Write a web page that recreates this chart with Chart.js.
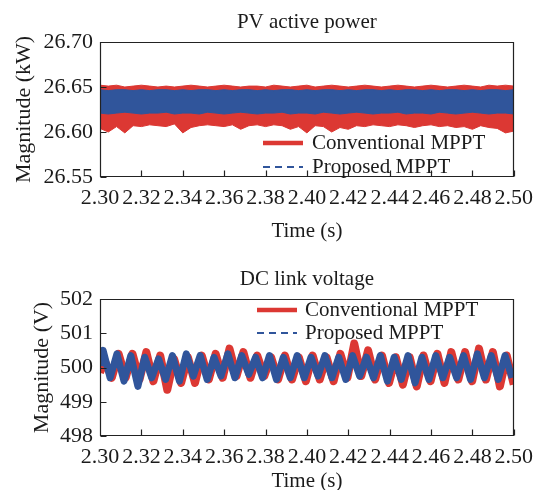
<!DOCTYPE html>
<html><head><meta charset="utf-8">
<script src="https://cdn.jsdelivr.net/npm/chart.js@4.4.0/dist/chart.umd.min.js"></script>
<style>
html,body{margin:0;padding:0;background:#fff;}
#w{position:relative;width:541px;height:490px;overflow:hidden;}
.c{position:absolute;left:0;width:541px;height:245px;}
</style></head><body>
<div id="w">
<div class="c" style="top:0"><canvas id="c1" width="541" height="245"></canvas></div>
<div class="c" style="top:245px"><canvas id="c2" width="541" height="245"></canvas></div>
</div>
<script>
// ---------- DATA ----------
const xTicks = [2.30,2.32,2.34,2.36,2.38,2.40,2.42,2.44,2.46,2.48,2.50];
const yTicksPower = [26.55,26.60,26.65,26.70];
const yTicksVolt = [498,499,500,501,502];
const legendLabels = ['Conventional MPPT','Proposed MPPT'];

// PV active power: envelope of the fast ripple band
const tPower = [2.300,2.304,2.308,2.312,2.316,2.320,2.324,2.328,2.332,2.336,2.340,2.344,2.348,2.352,2.356,2.360,2.364,2.368,2.372,2.376,2.380,2.384,2.388,2.392,2.396,2.400,2.404,2.408,2.412,2.416,2.420,2.424,2.428,2.432,2.436,2.440,2.444,2.448,2.452,2.456,2.460,2.464,2.468,2.472,2.476,2.480,2.484,2.488,2.492,2.496,2.500];
const convPowerUpper = [26.652,26.651,26.652,26.650,26.651,26.652,26.651,26.650,26.651,26.650,26.651,26.652,26.651,26.650,26.651,26.652,26.651,26.650,26.651,26.651,26.650,26.652,26.651,26.650,26.651,26.652,26.650,26.651,26.652,26.651,26.650,26.651,26.652,26.651,26.650,26.651,26.652,26.651,26.650,26.651,26.652,26.651,26.650,26.651,26.652,26.651,26.650,26.652,26.651,26.652,26.651];
const convPowerLower = [26.604,26.600,26.606,26.599,26.607,26.606,26.608,26.607,26.606,26.609,26.599,26.605,26.607,26.608,26.607,26.606,26.608,26.603,26.607,26.608,26.606,26.608,26.607,26.603,26.606,26.599,26.607,26.606,26.600,26.605,26.603,26.607,26.606,26.608,26.607,26.606,26.608,26.607,26.605,26.607,26.608,26.606,26.607,26.605,26.606,26.603,26.607,26.605,26.604,26.599,26.601];
const propPowerUpper = [26.647,26.646,26.647,26.647,26.646,26.647,26.646,26.647,26.647,26.646,26.647,26.646,26.647,26.647,26.646,26.647,26.646,26.647,26.647,26.646,26.647,26.646,26.647,26.647,26.646,26.647,26.646,26.647,26.647,26.646,26.647,26.646,26.647,26.647,26.646,26.647,26.646,26.647,26.647,26.646,26.647,26.646,26.647,26.647,26.646,26.647,26.646,26.647,26.647,26.646,26.647];
const propPowerLower = [26.621,26.620,26.621,26.622,26.621,26.620,26.621,26.621,26.622,26.620,26.621,26.621,26.620,26.622,26.621,26.620,26.621,26.622,26.621,26.620,26.621,26.621,26.622,26.620,26.621,26.621,26.620,26.622,26.621,26.620,26.621,26.622,26.621,26.620,26.621,26.621,26.622,26.620,26.621,26.621,26.620,26.622,26.621,26.620,26.621,26.622,26.621,26.620,26.621,26.621,26.620];

// DC link voltage: peaks and troughs of the ripple
const tConvVolt = [2.3000,2.3023,2.3057,2.3090,2.3124,2.3157,2.3191,2.3224,2.3258,2.3291,2.3325,2.3358,2.3392,2.3425,2.3459,2.3492,2.3526,2.3559,2.3593,2.3626,2.3660,2.3693,2.3727,2.3760,2.3794,2.3827,2.3861,2.3894,2.3928,2.3961,2.3995,2.4028,2.4062,2.4095,2.4129,2.4162,2.4196,2.4229,2.4263,2.4296,2.4330,2.4363,2.4397,2.4430,2.4464,2.4497,2.4531,2.4564,2.4598,2.4631,2.4665,2.4698,2.4732,2.4765,2.4799,2.4832,2.4866,2.4899,2.4933,2.4966,2.5000];
const convVolt = [499.85,500.20,499.70,500.40,499.70,500.40,499.65,500.45,499.60,500.35,499.35,500.25,499.55,500.30,499.55,500.35,499.65,500.40,499.70,500.55,499.75,500.45,499.70,500.35,499.75,500.30,499.65,500.35,499.65,500.30,499.60,500.35,499.65,500.30,499.60,500.40,499.70,500.70,499.75,500.50,499.65,500.35,499.55,500.30,499.50,500.30,499.45,500.35,499.60,500.40,499.55,500.45,499.65,500.45,499.60,500.55,499.65,500.45,499.45,500.35,499.50];
const tPropVolt = [2.3000,2.3015,2.3049,2.3082,2.3116,2.3149,2.3183,2.3216,2.3250,2.3283,2.3317,2.3350,2.3384,2.3417,2.3451,2.3484,2.3518,2.3551,2.3585,2.3618,2.3652,2.3685,2.3719,2.3752,2.3786,2.3819,2.3853,2.3886,2.3920,2.3953,2.3987,2.4020,2.4054,2.4087,2.4121,2.4154,2.4188,2.4221,2.4255,2.4288,2.4322,2.4355,2.4389,2.4422,2.4456,2.4489,2.4523,2.4556,2.4590,2.4623,2.4657,2.4690,2.4724,2.4757,2.4791,2.4824,2.4858,2.4891,2.4925,2.4958,2.4992];
const propVolt = [500.05,500.50,499.70,500.40,499.60,500.35,499.45,500.30,499.70,500.25,499.65,500.35,499.60,500.40,499.75,500.35,499.65,500.30,499.75,500.40,499.70,500.35,499.80,500.30,499.70,500.35,499.65,500.30,499.70,500.35,499.70,500.30,499.75,500.35,499.70,500.30,499.65,500.35,499.75,500.30,499.70,500.35,499.60,500.30,499.65,500.35,499.55,500.30,499.65,500.35,499.70,500.30,499.70,500.35,499.65,500.40,499.70,500.35,499.65,500.35,499.70];

// ---------- STYLE ----------
const RED = '#dc3833';
const BLUE = '#30559b';
const INK = '#1b1b1b';
const FONT = 'Liberation Serif';
const pts = (xs, ys) => xs.map((x, i) => ({x, y: ys[i]}));

const boxTicks = {
  id: 'boxTicks',
  afterDatasetsDraw(chart) {
    const {ctx, chartArea: a, scales: {x, y}} = chart;
    ctx.save();
    ctx.strokeStyle = '#222';
    ctx.lineWidth = 1.2;
    const L = Math.round(a.left) + 0.5, R = Math.round(a.right) - 0.5;
    const T = Math.round(a.top) + 0.5, B = Math.round(a.bottom) - 0.5;
    ctx.beginPath();
    ctx.rect(L, T, R - L, B - T);
    x.ticks.forEach(t => {
      const px = Math.round(x.getPixelForValue(t.value)) + 0.5;
      ctx.moveTo(px, B); ctx.lineTo(px, B - 6);
    });
    y.ticks.forEach(t => {
      const py = Math.round(y.getPixelForValue(t.value)) + 0.5;
      ctx.moveTo(L, py); ctx.lineTo(L + 6, py);
    });
    ctx.stroke();
    ctx.restore();
  }
};

const plotTitle = {
  id: 'plotTitle',
  afterDraw(chart, args, o) {
    const {ctx, chartArea: a} = chart;
    ctx.save();
    ctx.fillStyle = INK;
    ctx.font = '21px "' + FONT + '"';
    ctx.textAlign = 'center';
    ctx.textBaseline = 'middle';
    ctx.fillText(o.text, (a.left + a.right) / 2, o.y);
    ctx.restore();
  }
};

const inlineLegend = {
  id: 'inlineLegend',
  afterDraw(chart, args, o) {
    const {ctx} = chart;
    ctx.save();
    ctx.strokeStyle = RED; ctx.lineWidth = 4.5; ctx.setLineDash([]);
    ctx.beginPath(); ctx.moveTo(o.x0, o.y1); ctx.lineTo(o.x1, o.y1); ctx.stroke();
    ctx.strokeStyle = BLUE; ctx.lineWidth = 1.8; ctx.setLineDash([7, 5]);
    ctx.beginPath(); ctx.moveTo(o.x0, o.y2); ctx.lineTo(o.x1, o.y2); ctx.stroke();
    ctx.setLineDash([]);
    ctx.fillStyle = INK;
    ctx.font = '21px "' + FONT + '"';
    ctx.textBaseline = 'middle';
    ctx.textAlign = 'left';
    ctx.fillText(legendLabels[0], o.tx, o.y1);
    ctx.fillText(legendLabels[1], o.tx, o.y2);
    ctx.restore();
  }
};

function makeOptions(cfg) {
  return {
    responsive: false,
    animation: false,
    layout: {padding: {left: 0, right: 25, top: cfg.topPad, bottom: 0}},
    plugins: {
      legend: {display: false},
      tooltip: {enabled: false},
      title: {display: false},
      plotTitle: {text: cfg.title, y: cfg.titleY},
      inlineLegend: cfg.legend
    },
    scales: {
      x: {
        type: 'linear', min: 2.30, max: 2.50,
        afterBuildTicks: s => { s.ticks = xTicks.map(v => ({value: v})); },
        afterFit: s => { s.height = cfg.xHeight; },
        ticks: {
          autoSkip: false, maxRotation: 0, minRotation: 0, padding: 8, color: INK,
          font: {family: FONT, size: 22},
          callback: v => Number(v).toFixed(2)
        },
        grid: {display: false, drawTicks: false},
        border: {display: false},
        title: {
          display: true, text: 'Time (s)', color: INK,
          font: {family: FONT, size: 21}, padding: cfg.xTitlePad
        }
      },
      y: {
        type: 'linear', min: cfg.yMin, max: cfg.yMax,
        afterBuildTicks: s => { s.ticks = cfg.yTicks.map(v => ({value: v})); },
        afterFit: s => { s.width = 100; },
        ticks: {
          autoSkip: false, padding: 7, color: INK,
          font: {family: FONT, size: 22},
          callback: v => Number(v).toFixed(cfg.yDec)
        },
        grid: {display: false, drawTicks: false},
        border: {display: false},
        title: {
          display: true, text: cfg.yTitle, color: INK,
          font: {family: FONT, size: 22}, padding: {top: cfg.yTitleTop, bottom: 0}
        }
      }
    }
  };
}

// Datasets with lower index are painted on top, so the proposed (blue) series comes first.
new Chart(document.getElementById('c1'), {
  type: 'line',
  data: {
    datasets: [
      {label: legendLabels[1], data: pts(tPower, propPowerUpper), borderColor: BLUE, borderWidth: 1, pointRadius: 0, fill: false, tension: 0},
      {label: legendLabels[1], data: pts(tPower, propPowerLower), borderColor: BLUE, borderWidth: 1, backgroundColor: BLUE, pointRadius: 0, fill: '-1', tension: 0},
      {label: legendLabels[0], data: pts(tPower, convPowerUpper), borderColor: RED, borderWidth: 1, pointRadius: 0, fill: false, tension: 0},
      {label: legendLabels[0], data: pts(tPower, convPowerLower), borderColor: RED, borderWidth: 1, backgroundColor: RED, pointRadius: 0, fill: '-1', tension: 0}
    ]
  },
  options: makeOptions({
    title: 'PV active power', titleY: 22, topPad: 42,
    xHeight: 68, xTitlePad: {top: 0, bottom: 1},
    yMin: 26.55, yMax: 26.70, yTicks: yTicksPower, yDec: 2,
    yTitle: 'Magnitude (kW)', yTitleTop: 11,
    legend: {x0: 263, x1: 303, tx: 312, y1: 143, y2: 167}
  }),
  plugins: [boxTicks, plotTitle, inlineLegend]
});

new Chart(document.getElementById('c2'), {
  type: 'line',
  data: {
    datasets: [
      {label: legendLabels[1], data: pts(tPropVolt, propVolt), borderColor: BLUE, borderWidth: 7, pointRadius: 0, fill: false, tension: 0, borderJoinStyle: 'round'},
      {label: legendLabels[0], data: pts(tConvVolt, convVolt), borderColor: RED, borderWidth: 8, pointRadius: 0, fill: false, tension: 0, borderJoinStyle: 'round'}
    ]
  },
  options: makeOptions({
    title: 'DC link voltage', titleY: 34, topPad: 54,
    xHeight: 54, xTitlePad: {top: 0, bottom: -4},
    yMin: 498, yMax: 502, yTicks: yTicksVolt, yDec: 0,
    yTitle: 'Magnitude (V)', yTitleTop: 29,
    legend: {x0: 257, x1: 297, tx: 305, y1: 65, y2: 88}
  }),
  plugins: [boxTicks, plotTitle, inlineLegend]
});
</script>
</body></html>
